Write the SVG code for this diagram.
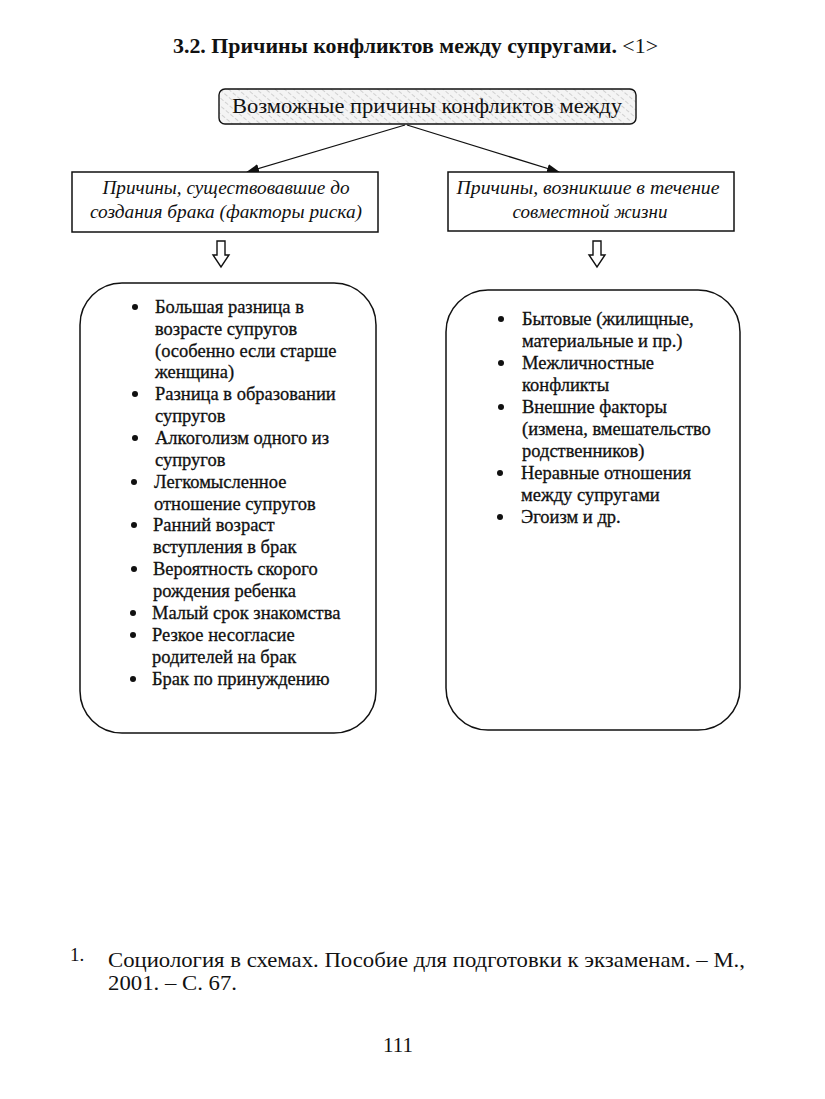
<svg xmlns="http://www.w3.org/2000/svg" width="825" height="1099" viewBox="0 0 825 1099">
<defs>
<pattern id="hatch" width="6" height="6" patternUnits="userSpaceOnUse" patternTransform="rotate(-50)">
<rect width="6" height="6" fill="#f4f4f4"/>
<line x1="0" y1="0" x2="0" y2="6" stroke="#9a9a9a" stroke-width="0.8" stroke-dasharray="2 2"/>
</pattern>
<marker id="ah" markerWidth="13" markerHeight="9" refX="12" refY="4.5" orient="auto" markerUnits="userSpaceOnUse">
<path d="M0,0 L13,4.5 L0,9 Z" fill="#111"/>
</marker>
<g id="hollow">
<path d="M-4,0 H4 V14 H8 L0,26 L-8,14 H-4 Z" fill="#fff" stroke="#111" stroke-width="1.4"/>
</g>
</defs>
<style>
text{font-family:"Liberation Serif","Times New Roman",serif;fill:#111}
.t{font-size:21.5px;font-weight:bold}
.top{font-size:20px}
.it{font-size:19px;font-style:italic}
.li text{font-size:18.5px;stroke:#111;stroke-width:0.3}
.fn{font-size:22px}
.box{fill:#fff;stroke:#111;stroke-width:1.5}
.edge{stroke:#111;stroke-width:1.3;fill:none}
.b{fill:#111}
</style>
<rect width="825" height="1099" fill="#fff"/>
<text class="t" x="173" y="53" textLength="485" lengthAdjust="spacingAndGlyphs">3.2. Причины конфликтов между супругами. <tspan font-weight="normal">&lt;1&gt;</tspan></text>

<g id="top">
<rect x="219" y="89" width="417" height="35" rx="6" fill="url(#hatch)" stroke="#111" stroke-width="1.4"/>
<text class="top" x="427" y="113" text-anchor="middle" textLength="390" lengthAdjust="spacingAndGlyphs">Возможные причины конфликтов между</text>
</g>

<g id="connectors">
<line class="edge" x1="405" y1="125" x2="247" y2="172" marker-end="url(#ah)"/>
<line class="edge" x1="407" y1="125" x2="559" y2="172" marker-end="url(#ah)"/>
<use href="#hollow" x="221" y="241"/>
<use href="#hollow" x="597" y="241"/>
</g>

<g id="left-head">
<rect class="box" x="72" y="172" width="306" height="60"/>
<text class="it" x="226" y="194" text-anchor="middle" textLength="247" lengthAdjust="spacingAndGlyphs">Причины, существовавшие до</text>
<text class="it" x="226" y="218" text-anchor="middle" textLength="272" lengthAdjust="spacingAndGlyphs">создания брака (факторы риска)</text>
</g>

<g id="right-head">
<rect class="box" x="448" y="172" width="286" height="59"/>
<text class="it" x="588" y="194" text-anchor="middle" textLength="263" lengthAdjust="spacingAndGlyphs">Причины, возникшие в течение</text>
<text class="it" x="590" y="218" text-anchor="middle">совместной жизни</text>
</g>

<g id="left-list">
<rect class="box" x="80" y="283" width="296" height="450" rx="42"/>
<g class="b">
<circle cx="135" cy="307" r="3"/><circle cx="135" cy="394" r="3"/><circle cx="135" cy="438" r="3"/>
<circle cx="134" cy="482" r="3"/><circle cx="134" cy="525" r="3"/><circle cx="134" cy="569" r="3"/>
<circle cx="133" cy="613" r="3"/><circle cx="133" cy="635" r="3"/><circle cx="133" cy="679" r="3"/>
</g>
<g class="li">
<text x="155" y="313">Большая разница в</text>
<text x="155" y="335">возрасте супругов</text>
<text x="155" y="357">(особенно если старше</text>
<text x="155" y="378">женщина)</text>
<text x="155" y="400">Разница в образовании</text>
<text x="155" y="422">супругов</text>
<text x="155" y="444">Алкоголизм одного из</text>
<text x="155" y="466">супругов</text>
<text x="154" y="488">Легкомысленное</text>
<text x="154" y="510">отношение супругов</text>
<text x="153" y="531">Ранний возраст</text>
<text x="153" y="553">вступления в брак</text>
<text x="153" y="575">Вероятность скорого</text>
<text x="153" y="597">рождения ребенка</text>
<text x="152" y="619">Малый срок знакомства</text>
<text x="152" y="641">Резкое несогласие</text>
<text x="152" y="663">родителей на брак</text>
<text x="152" y="685">Брак по принуждению</text>
</g>
</g>

<g id="right-list">
<rect class="box" x="446" y="290" width="294" height="440" rx="42"/>
<g class="b">
<circle cx="501" cy="319" r="3"/><circle cx="501" cy="363" r="3"/><circle cx="501" cy="407" r="3"/>
<circle cx="500" cy="473" r="3"/><circle cx="500" cy="517" r="3"/>
</g>
<g class="li">
<text x="522" y="325">Бытовые (жилищные,</text>
<text x="522" y="347">материальные и пр.)</text>
<text x="522" y="369">Межличностные</text>
<text x="522" y="391">конфликты</text>
<text x="522" y="413">Внешние факторы</text>
<text x="522" y="435">(измена, вмешательство</text>
<text x="522" y="457">родственников)</text>
<text x="521" y="479">Неравные отношения</text>
<text x="521" y="501">между супругами</text>
<text x="521" y="523">Эгоизм и др.</text>
</g>
</g>

<g id="footnote">
<text x="70" y="961" font-size="19">1.</text>
<text class="fn" x="108" y="967" textLength="637" lengthAdjust="spacingAndGlyphs">Социология в схемах. Пособие для подготовки к экзаменам. – М.,</text>
<text class="fn" x="108" y="990" textLength="129" lengthAdjust="spacingAndGlyphs">2001. – С. 67.</text>
<text x="398" y="1052" text-anchor="middle" font-size="21">111</text>
</g>
</svg>
